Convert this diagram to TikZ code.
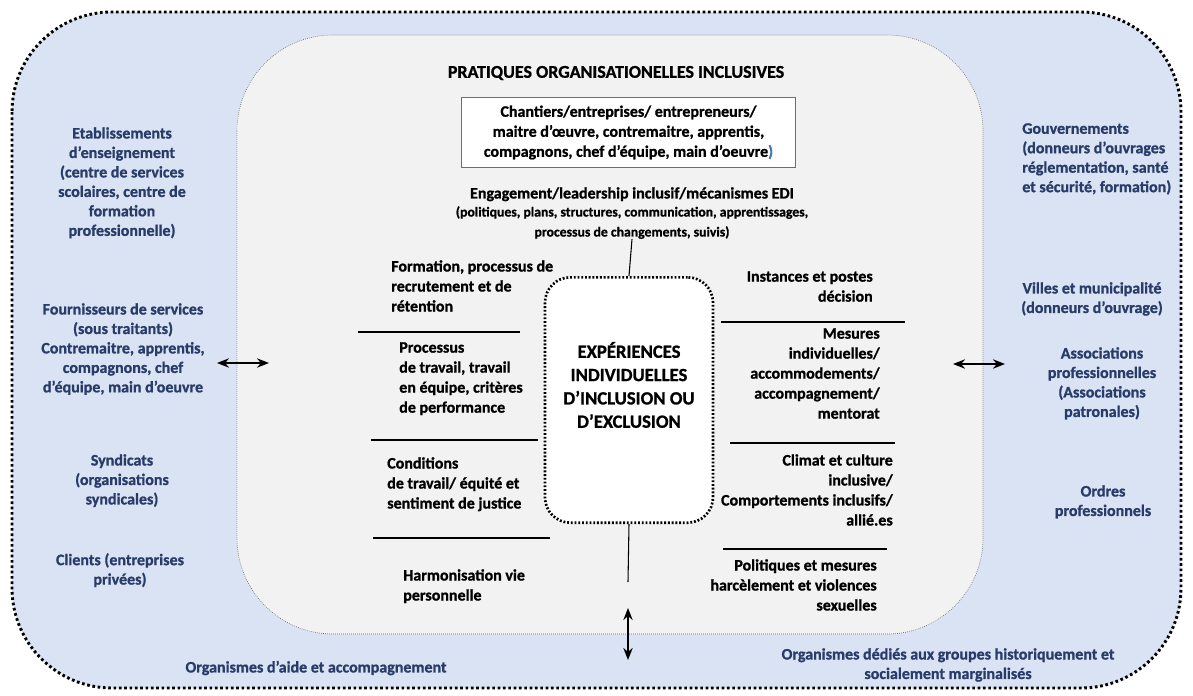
\documentclass[tikz,border=0pt]{standalone}
\usepackage{fontspec}
\setmainfont{Carlito}[UprightFont={* Bold}, BoldFont={* Bold}, BoldFeatures={FakeBold=1}]
\usetikzlibrary{arrows.meta,positioning}

\definecolor{zoneblue}{RGB}{218,227,243}
\definecolor{zonegray}{RGB}{242,242,242}
\definecolor{txtblue}{RGB}{40,60,105}
\definecolor{boxblue}{RGB}{68,114,196}

\tikzset{
  acteur/.style={text=txtblue, font=\bfseries\fontsize{12}{14.6}\selectfont, align=center, inner sep=0pt},
  pratique/.style={font=\bfseries\fontsize{12}{15}\selectfont, inner sep=0pt},
  sep/.style={line width=0.8pt},
  lien/.style={line width=2pt, {Stealth[length=9pt,width=7pt]}-{Stealth[length=9pt,width=7pt]}},
}

\begin{document}
\begin{tikzpicture}[x=0.75pt,y=-0.75pt]
  \useasboundingbox (0,0) rectangle (1193,696);

  %--- zones
  \draw[fill=zoneblue, line width=2.2pt, dash pattern=on 2pt off 2pt, rounded corners=75pt]
    (12,12) rectangle (1181,688);
  \draw[fill=zonegray, draw=gray!80!black, line width=0.5pt, densely dotted, rounded corners=72pt]
    (237,35) rectangle (983,634);

  %--- acteurs externes (gauche)
  \node[acteur, anchor=north] (etab) at (122,127)
    {Etablissements\\d’enseignement\\(centre de services\\scolaires, centre de\\formation\\professionnelle)};
  \node[acteur, anchor=north] (fourn) at (123,303)
    {Fournisseurs de services\\(sous traitants)\\Contremaitre, apprentis,\\compagnons, chef\\d’équipe, main d’oeuvre};
  \node[acteur, anchor=north] (synd) at (122,454)
    {Syndicats\\(organisations\\syndicales)};
  \node[acteur, anchor=north] (clients) at (120,553)
    {Clients (entreprises\\privées)};
  \node[acteur] (aide) at (316,668) {Organismes d’aide et accompagnement};

  %--- acteurs externes (droite)
  \node[acteur, align=left, anchor=north west] (gouv) at (1022,123)
    {Gouvernements\\(donneurs d’ouvrages\\réglementation, santé\\et sécurité, formation)};
  \node[acteur, anchor=north] (villes) at (1092,282)
    {Villes et municipalité\\(donneurs d’ouvrage)};
  \node[acteur, anchor=north] (assoc) at (1102,347)
    {Associations\\professionnelles\\(Associations\\patronales)};
  \node[acteur, anchor=north] (ordres) at (1103,485)
    {Ordres\\professionnels};
  \node[acteur, anchor=north] (dedies) at (948,648)
    {Organismes dédiés aux groupes historiquement et\\socialement marginalisés};

  %--- pratiques organisationnelles
  \node[pratique, font=\bfseries\fontsize{13.5}{16}\selectfont] (titre) at (616,73)
    {PRATIQUES ORGANISATIONELLES INCLUSIVES};
  \node[pratique, align=center, draw=boxblue, fill=white, line width=0.7pt,
        minimum width=250pt, minimum height=52pt] (chantiers) at (628.5,132.5)
    {Chantiers/entreprises/ entrepreneurs/\\maitre d’œuvre, contremaitre, apprentis,\\compagnons, chef d’équipe, main d’oeuvre{\color{boxblue})}};
  \node[pratique, align=center, anchor=north] (engage) at (632,187)
    {Engagement/leadership inclusif/mécanismes EDI\\[-1.5pt]
     {\fontsize{10.3}{14}\selectfont (politiques, plans, structures, communication, apprentissages,}\\
     {\fontsize{10.3}{14}\selectfont processus de changements, suivis)}};

  \node[fill=white, line width=2pt, dash pattern=on 1.4pt off 1.4pt, draw,
        rounded corners=19pt, minimum width=126pt, minimum height=184pt] (centre) at (629,400) {};
  \node[pratique, align=center, font=\bfseries\fontsize{14}{17.5}\selectfont] (experiences) at (629,385)
    {EXPÉRIENCES\\INDIVIDUELLES\\D’INCLUSION OU\\D’EXCLUSION};

  % gauche
  \node[pratique, align=left, anchor=north west] (formation) at (391,260)
    {Formation, processus de\\recrutement et de\\rétention};
  \node[pratique, align=left, anchor=north west] (processus) at (399,342)
    {Processus\\de travail, travail\\en équipe, critères\\de performance};
  \node[pratique, align=left, anchor=north west] (conditions) at (387,457)
    {Conditions\\de travail/ équité et\\sentiment de justice};
  \node[pratique, align=left, anchor=north west] (harmo) at (403,569)
    {Harmonisation vie\\personnelle};
  % droite
  \node[pratique, align=right, anchor=north east] (instances) at (873,271)
    {Instances et postes\\décision};
  \node[pratique, align=right, anchor=north east] (mesures) at (880,328)
    {Mesures\\individuelles/\\accommodements/\\accompagnement/\\mentorat};
  \node[pratique, align=right, anchor=north east] (climat) at (893,454)
    {Climat et culture\\inclusive/\\Comportements inclusifs/\\allié.es};
  \node[pratique, align=right, anchor=north east] (politiques) at (877,559)
    {Politiques et mesures\\harcèlement et violences\\sexuelles};

  % separateurs
  \draw[sep] (358,332) -- (520,332);
  \draw[sep] (371,440) -- (538,440);
  \draw[sep] (373,538) -- (550,538);
  \draw[sep] (721,322) -- (905,322);
  \draw[sep] (730,443) -- (895,443);
  \draw[sep] (723,549) -- (887,549);

  %--- liens
  \coordinate (bas) at (628,582);
  \draw[sep] (engage.south) -- (centre.north);
  \draw[sep] (centre.south) -- (bas);

  \coordinate (gA) at (217,363);
  \coordinate (gB) at (269,363);
  \coordinate (dA) at (953,364);
  \coordinate (dB) at (1005,364);
  \coordinate (bA) at (628,608);
  \coordinate (bB) at (628,660);
  \draw[lien] (gA) -- (gB);
  \draw[lien] (dA) -- (dB);
  \draw[lien] (bA) -- (bB);
\end{tikzpicture}
\end{document}
